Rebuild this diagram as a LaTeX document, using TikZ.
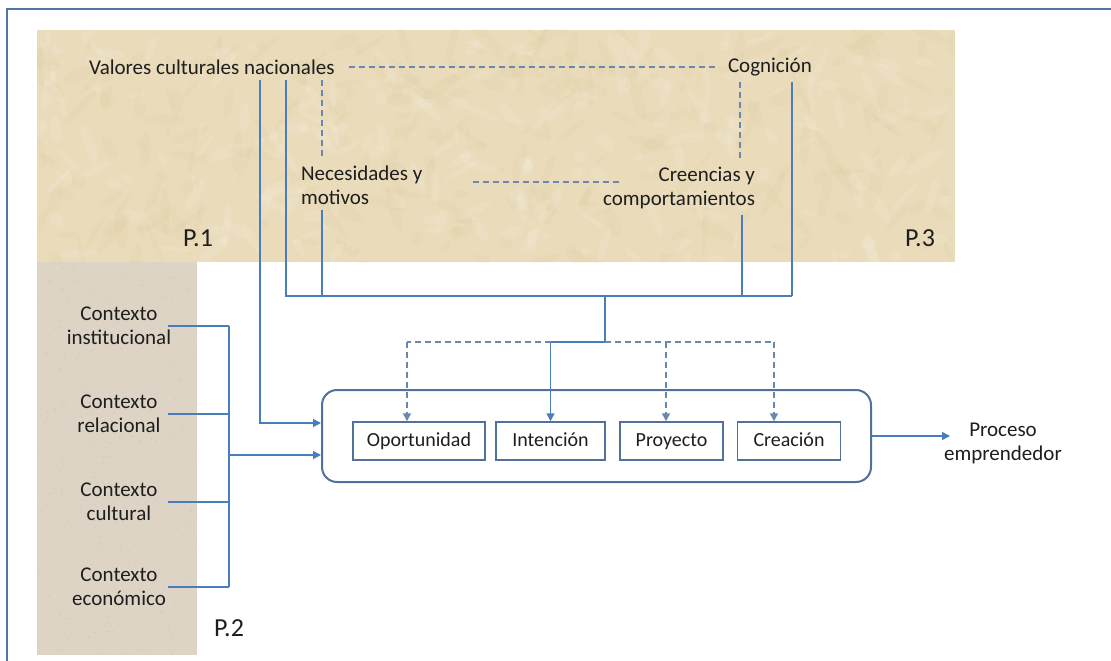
\documentclass[tikz,border=0pt]{standalone}
\usepackage{fontspec}
\setmainfont{Carlito}
\usetikzlibrary{arrows.meta}

\definecolor{framecol}{HTML}{5375A5}
\definecolor{linecol}{HTML}{4A7EBB}
\definecolor{dashcol}{HTML}{6A88AE}
\definecolor{boxcol}{HTML}{51709A}
\definecolor{parchment}{HTML}{EADCBA}
\definecolor{parchdark}{HTML}{D6C194}
\definecolor{sand}{HTML}{DDD4C5}
\definecolor{sanddark}{HTML}{C9BDAA}
\definecolor{ink}{HTML}{1E1E1E}

\tikzset{
  lbl/.style={inner sep=0pt, outer sep=6pt, text=ink, font=\fontsize{21}{24}\selectfont},
  plbl/.style={inner sep=0pt, text=ink, font=\fontsize{26}{28}\selectfont},
  ln/.style={draw=linecol, line width=1.5pt},
  dsh/.style={draw=dashcol, line width=1.5pt, dash pattern=on 6pt off 4pt},
  tip/.style={-{Triangle[length=8pt,width=8pt]}},
  stage/.style={draw=boxcol, line width=1.5pt, minimum height=38pt, inner sep=0pt,
                text height=14pt, text depth=4pt,
                text=ink, font=\fontsize{20}{22}\selectfont},
  container/.style={draw=boxcol, line width=2pt, rounded corners=15pt,
                    minimum width=549pt, minimum height=92pt},
}

\begin{document}
\begin{tikzpicture}[x=1pt, y=-1pt]
\useasboundingbox (0,0) rectangle (1111,661);
\fill[white] (0,0) rectangle (1111,661);

% textured backgrounds of the two regions
\fill[parchment] (37,30) rectangle (955,262);
\fill[sand] (37,262) rectangle (197,655);
\pgfmathsetseed{7}
\begin{scope}
  \clip (37,30) rectangle (955,262);
  \foreach \i in {1,...,260}{
    \pgfmathsetmacro{\px}{37+rnd*918}
    \pgfmathsetmacro{\py}{30+rnd*232}
    \pgfmathsetmacro{\rx}{4+rnd*22}
    \pgfmathsetmacro{\ry}{2+rnd*5}
    \pgfmathsetmacro{\ang}{rnd*180}
    \fill[parchdark, opacity=0.10, rotate around={\ang:(\px,\py)}] (\px,\py) ellipse [x radius=\rx, y radius=\ry];
  }
  \foreach \i in {1,...,220}{
    \pgfmathsetmacro{\px}{37+rnd*918}
    \pgfmathsetmacro{\py}{30+rnd*232}
    \pgfmathsetmacro{\rx}{4+rnd*18}
    \pgfmathsetmacro{\ry}{2+rnd*4}
    \pgfmathsetmacro{\ang}{rnd*180}
    \fill[white, opacity=0.10, rotate around={\ang:(\px,\py)}] (\px,\py) ellipse [x radius=\rx, y radius=\ry];
  }
\end{scope}
\begin{scope}
  \clip (37,262) rectangle (197,655);
  \foreach \i in {1,...,400}{
    \pgfmathsetmacro{\px}{37+rnd*160}
    \pgfmathsetmacro{\py}{262+rnd*393}
    \fill[sanddark, opacity=0.45] (\px,\py) circle (0.8);
  }
\end{scope}

% outer frame
\draw[framecol, line width=2.2pt] (7,9) rectangle (1125,675);

% factor labels
\node[lbl, anchor=west] (val) at (83,67) {Valores culturales nacionales};
\node[lbl, anchor=west] (cog) at (722,67) {Cognición};
\node[lbl, anchor=west, align=left] (nec) at (295,185) {Necesidades y\\motivos};
\node[lbl, anchor=east, align=right] (cre) at (761,188) {Creencias y\\comportamientos};

\node[plbl] (p1) at (198,238) {P.1};
\node[plbl] (p3) at (920,238) {P.3};
\node[plbl] (p2) at (229,628) {P.2};

% context labels
\node[lbl, align=center] (ci) at (119,326) {Contexto\\institucional};
\node[lbl, align=center] (cr) at (119,414) {Contexto\\relacional};
\node[lbl, align=center] (cc) at (119,502) {Contexto\\cultural};
\node[lbl, align=center] (ce) at (119,587) {Contexto\\económico};

% process container and stages
\node[container] (proc) at (596.5,436) {};
\node[stage, minimum width=132pt] (opo) at (419,441) {Oportunidad};
\node[stage, minimum width=109pt] (int) at (550.5,441) {Intención};
\node[stage, minimum width=103pt] (pro) at (671.5,441) {Proyecto};
\node[stage, minimum width=103pt] (cre2) at (789,441) {Creación};

\node[lbl, align=center] (pe) at (1003,443) {Proceso\\emprendedor};

% junction points
\coordinate (busL) at (286,296);
\coordinate (busR) at (792,296);
\coordinate (hub) at (605,296);
\coordinate (split) at (605,342);
\coordinate (dO) at (407,342);
\coordinate (dP) at (666,342);
\coordinate (dC) at (774,342);
\coordinate (bus) at (229,455);

% dashed relations among the cultural factors
\draw[dsh, shorten <=8pt, shorten >=6pt] (val.east) -- (cog.west |- val.east);
\draw[dsh] (val.south -| 322,0) -- (nec.north -| 322,0);
\draw[dsh] (cog.south -| 740,0) -- (cre.north -| 740,0);
\draw[dsh] (nec.east |- 0,182) ++(45,0) -- (621,182);

% cultural factors collected into one bus
\draw[ln] (val.south -| busL) -- (busL) -- (busR);
\draw[ln] (cog.south -| busR) -- (busR);
\draw[ln] (nec.south -| 322,0) -- (hub -| 322,0);
\draw[ln] (cre.south -| 742,0) -- (hub -| 742,0);
\draw[ln, tip] (val.south -| 260,0) |- (proc.west |- 0,423);

% bus down to the stages
\draw[ln] (hub) -- (split);
\draw[ln, tip] (split) -| (int.north);
\draw[dsh] (split -| int.north) -- (dO);
\draw[dsh, tip] (dO) -- (dO |- opo.north);
\draw[dsh] (split) -- (dC);
\draw[dsh, tip] (dP) -- (dP |- pro.north);
\draw[dsh, tip] (dC) -- (dC |- cre2.north);

% context factors collected into one bus
\draw[ln] (ci -| 168,0) -- (ci -| bus);
\draw[ln] (cr -| 168,0) -- (cr -| bus);
\draw[ln] (cc -| 168,0) -- (cc -| bus);
\draw[ln] (ce -| 168,0) -- (ce -| bus);
\draw[ln] (ci -| bus) -- (ce -| bus);
\draw[ln, tip] (bus) -- (proc.west |- bus);

% output of the process
\draw[ln, tip] (proc.east) -- (proc.east -| 950,0);
\end{tikzpicture}
\end{document}
